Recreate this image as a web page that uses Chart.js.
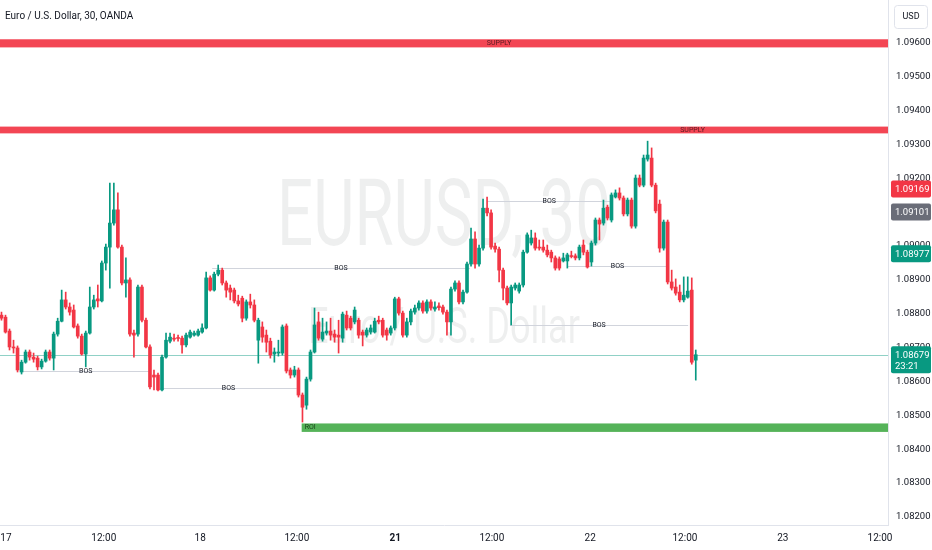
<!DOCTYPE html>
<html lang="en">
<head>
	<meta charset="UTF-8">
	<title>Euro / U.S. Dollar, 30, OANDA</title>
	<script src="https://cdn.jsdelivr.net/npm/chart.js@4.4.0/dist/chart.umd.min.js"></script>
	<style>
		html, body {
			margin: 0;
			padding: 0;
			background: #fff;
			overflow: hidden;
		}

		#wrap {
			width: 932px;
			height: 550px;
		}
	</style>
</head>

<body>
	<div id="wrap"><canvas id="chart" width="932" height="550"></canvas></div>

	<script>
		// OHLC of the 30 minute bars (bar 0 = first visible bar)
		const opens = [
			1.08796, 1.08790, 1.08749, 1.08702, 1.08699, 1.08628, 1.08657, 1.08687, 1.08672, 1.08669,
			1.08643, 1.08660, 1.08687, 1.08669, 1.08740, 1.08778, 1.08841, 1.08820, 1.08811, 1.08764,
			1.08734, 1.08681, 1.08743, 1.08820, 1.08844, 1.08838, 1.08950, 1.08997, 1.09068, 1.09107,
			1.08997, 1.08891, 1.08900, 1.08743, 1.08740, 1.08879, 1.08781, 1.08702, 1.08619, 1.08619,
			1.08575, 1.08672, 1.08719, 1.08728, 1.08728, 1.08728, 1.08708, 1.08731, 1.08737, 1.08737,
			1.08746, 1.08758, 1.08906, 1.08870, 1.08917, 1.08929, 1.08891, 1.08876, 1.08870, 1.08838,
			1.08846, 1.08787, 1.08835, 1.08826, 1.08722, 1.08761, 1.08737, 1.08719, 1.08681, 1.08684,
			1.08684, 1.08764, 1.08634, 1.08619, 1.08634, 1.08560, 1.08530, 1.08607, 1.08687, 1.08776,
			1.08725, 1.08743, 1.08749, 1.08740, 1.08737, 1.08728, 1.08796, 1.08787, 1.08776, 1.08781,
			1.08746, 1.08737, 1.08746, 1.08746, 1.08781, 1.08781, 1.08752, 1.08743, 1.08758, 1.08844,
			1.08802, 1.08737, 1.08776, 1.08805, 1.08817, 1.08832, 1.08808, 1.08835, 1.08814, 1.08823,
			1.08820, 1.08805, 1.08776, 1.08873, 1.08891, 1.08835, 1.08864, 1.08947, 1.09021, 1.08947,
			1.08994, 1.09112, 1.09098, 1.09000, 1.08991, 1.08929, 1.08876, 1.08832, 1.08876, 1.08867,
			1.08885, 1.08982, 1.09009, 1.09024, 1.08997, 1.08997, 1.08988, 1.08982, 1.08965, 1.08962,
			1.08956, 1.08956, 1.08971, 1.08971, 1.08965, 1.09003, 1.08982, 1.08953, 1.09009, 1.09077,
			1.09068, 1.09115, 1.09077, 1.09145, 1.09157, 1.09142, 1.09095, 1.09136, 1.09059, 1.09201,
			1.09180, 1.09257, 1.09260, 1.09180, 1.09124, 1.08994, 1.09071, 1.08894, 1.08879, 1.08864,
			1.08841, 1.08849, 1.08870, 1.08663
		];
		const highs = [
			1.08805, 1.08796, 1.08755, 1.08722, 1.08705, 1.08663, 1.08693, 1.08693, 1.08684, 1.08675,
			1.08666, 1.08693, 1.08693, 1.08746, 1.08787, 1.08870, 1.08864, 1.08832, 1.08826, 1.08770,
			1.08740, 1.08749, 1.08879, 1.08855, 1.08885, 1.08956, 1.09006, 1.09186, 1.09186, 1.09157,
			1.09003, 1.08965, 1.08906, 1.08752, 1.08885, 1.08885, 1.08787, 1.08708, 1.08634, 1.08625,
			1.08678, 1.08743, 1.08743, 1.08740, 1.08737, 1.08734, 1.08743, 1.08752, 1.08749, 1.08755,
			1.08770, 1.08923, 1.08912, 1.08923, 1.08944, 1.08935, 1.08897, 1.08885, 1.08876, 1.08855,
			1.08852, 1.08841, 1.08858, 1.08841, 1.08787, 1.08776, 1.08752, 1.08728, 1.08699, 1.08722,
			1.08767, 1.08770, 1.08640, 1.08645, 1.08640, 1.08566, 1.08613, 1.08693, 1.08817, 1.08805,
			1.08787, 1.08776, 1.08787, 1.08752, 1.08781, 1.08805, 1.08808, 1.08793, 1.08820, 1.08787,
			1.08752, 1.08758, 1.08767, 1.08787, 1.08793, 1.08787, 1.08758, 1.08764, 1.08849, 1.08849,
			1.08808, 1.08787, 1.08814, 1.08826, 1.08838, 1.08838, 1.08841, 1.08841, 1.08835, 1.08832,
			1.08826, 1.08811, 1.08879, 1.08897, 1.08897, 1.08870, 1.08953, 1.09053, 1.09042, 1.09003,
			1.09139, 1.09145, 1.09107, 1.09009, 1.08997, 1.08935, 1.08882, 1.08885, 1.08891, 1.08891,
			1.08988, 1.09039, 1.09047, 1.09039, 1.09018, 1.09018, 1.09003, 1.08988, 1.08971, 1.08968,
			1.08979, 1.08979, 1.08985, 1.08977, 1.09003, 1.09018, 1.08988, 1.09015, 1.09083, 1.09083,
			1.09136, 1.09121, 1.09157, 1.09166, 1.09172, 1.09148, 1.09142, 1.09142, 1.09210, 1.09210,
			1.09269, 1.09310, 1.09290, 1.09186, 1.09136, 1.09077, 1.09077, 1.08929, 1.08903, 1.08885,
			1.08909, 1.08909, 1.08906, 1.08693
		];
		const lows = [
			1.08781, 1.08743, 1.08693, 1.08684, 1.08628, 1.08622, 1.08654, 1.08663, 1.08657, 1.08634,
			1.08637, 1.08657, 1.08663, 1.08634, 1.08734, 1.08776, 1.08814, 1.08796, 1.08758, 1.08728,
			1.08678, 1.08643, 1.08740, 1.08814, 1.08820, 1.08835, 1.08929, 1.08876, 1.09062, 1.08994,
			1.08885, 1.08849, 1.08734, 1.08672, 1.08734, 1.08776, 1.08699, 1.08578, 1.08575, 1.08572,
			1.08572, 1.08669, 1.08714, 1.08719, 1.08719, 1.08684, 1.08702, 1.08728, 1.08734, 1.08734,
			1.08743, 1.08755, 1.08867, 1.08867, 1.08912, 1.08885, 1.08849, 1.08841, 1.08832, 1.08823,
			1.08776, 1.08781, 1.08817, 1.08776, 1.08654, 1.08716, 1.08687, 1.08669, 1.08657, 1.08675,
			1.08678, 1.08625, 1.08610, 1.08613, 1.08554, 1.08480, 1.08518, 1.08601, 1.08684, 1.08722,
			1.08719, 1.08737, 1.08722, 1.08716, 1.08684, 1.08716, 1.08752, 1.08752, 1.08770, 1.08728,
			1.08705, 1.08731, 1.08740, 1.08743, 1.08770, 1.08731, 1.08722, 1.08737, 1.08752, 1.08796,
			1.08731, 1.08731, 1.08767, 1.08799, 1.08811, 1.08802, 1.08802, 1.08811, 1.08808, 1.08811,
			1.08799, 1.08737, 1.08737, 1.08867, 1.08829, 1.08829, 1.08861, 1.08941, 1.08935, 1.08941,
			1.08988, 1.09089, 1.08991, 1.08982, 1.08894, 1.08841, 1.08826, 1.08767, 1.08870, 1.08861,
			1.08879, 1.08979, 1.09003, 1.08988, 1.08988, 1.08982, 1.08968, 1.08953, 1.08929, 1.08929,
			1.08953, 1.08935, 1.08965, 1.08959, 1.08959, 1.08974, 1.08935, 1.08941, 1.09003, 1.09018,
			1.09062, 1.09077, 1.09071, 1.09142, 1.09136, 1.09089, 1.09089, 1.09053, 1.09053, 1.09175,
			1.09175, 1.09251, 1.09175, 1.09098, 1.08982, 1.08988, 1.08888, 1.08870, 1.08855, 1.08835,
			1.08835, 1.08846, 1.08651, 1.08604
		];
		const closes = [
			1.08787, 1.08746, 1.08702, 1.08699, 1.08634, 1.08657, 1.08687, 1.08672, 1.08666, 1.08643,
			1.08660, 1.08687, 1.08669, 1.08740, 1.08778, 1.08841, 1.08820, 1.08805, 1.08761, 1.08734,
			1.08681, 1.08743, 1.08820, 1.08841, 1.08838, 1.08950, 1.08997, 1.09068, 1.09107, 1.08997,
			1.08891, 1.08900, 1.08740, 1.08737, 1.08879, 1.08781, 1.08702, 1.08584, 1.08613, 1.08575,
			1.08672, 1.08722, 1.08731, 1.08725, 1.08727, 1.08708, 1.08737, 1.08746, 1.08743, 1.08749,
			1.08758, 1.08906, 1.08870, 1.08917, 1.08929, 1.08891, 1.08870, 1.08864, 1.08838, 1.08829,
			1.08787, 1.08835, 1.08826, 1.08781, 1.08781, 1.08731, 1.08716, 1.08678, 1.08687, 1.08687,
			1.08761, 1.08631, 1.08619, 1.08634, 1.08560, 1.08524, 1.08607, 1.08687, 1.08767, 1.08728,
			1.08746, 1.08749, 1.08737, 1.08731, 1.08731, 1.08799, 1.08758, 1.08758, 1.08811, 1.08737,
			1.08737, 1.08752, 1.08758, 1.08778, 1.08776, 1.08737, 1.08737, 1.08758, 1.08844, 1.08802,
			1.08737, 1.08776, 1.08808, 1.08817, 1.08832, 1.08808, 1.08835, 1.08817, 1.08820, 1.08818,
			1.08805, 1.08776, 1.08873, 1.08891, 1.08835, 1.08864, 1.08947, 1.09021, 1.08947, 1.08994,
			1.09112, 1.09098, 1.08997, 1.08991, 1.08929, 1.08876, 1.08832, 1.08879, 1.08885, 1.08885,
			1.08982, 1.09033, 1.09024, 1.08994, 1.08994, 1.08988, 1.08974, 1.08965, 1.08935, 1.08935,
			1.08965, 1.08974, 1.08969, 1.08965, 1.08997, 1.08982, 1.08938, 1.09009, 1.09077, 1.09065,
			1.09112, 1.09083, 1.09151, 1.09157, 1.09142, 1.09095, 1.09136, 1.09059, 1.09201, 1.09180,
			1.09260, 1.09269, 1.09180, 1.09104, 1.08994, 1.09071, 1.08894, 1.08876, 1.08861, 1.08841,
			1.08855, 1.08867, 1.08657, 1.08679
		];

		// axes
		const priceTicks = [1.082, 1.083, 1.084, 1.085, 1.086, 1.087, 1.088, 1.089, 1.090, 1.091, 1.092, 1.093, 1.094, 1.095, 1.096];
		const timeTickBars = [1.1, 25.5, 49.5, 73.6, 98.1, 122.2, 146.7, 170.3, 194.7, 218.9];
		const timeTickLabels = ["17", "12:00", "18", "12:00", "21", "12:00", "22", "12:00", "23", "12:00"];

		// drawings (price levels, and bar numbers where they start / end)
		const supplyZones = [[1.09587, 1.09611], [1.09333, 1.09353]];
		const supplyLabelBars = [124, 172.2];
		const roiZone = [1.08451, 1.08476];
		const roiStartBar = 74.8;
		const bosLevels = [1.08631, 1.08580, 1.08935, 1.09133, 1.08941, 1.08767];
		const bosFromBar = [5, 39.5, 52.5, 121, 141, 126.7];
		const bosToBar = [37, 73.6, 116.7, 152, 166, 171.1];

		// price scale markers
		const markerPrices = [1.09169, 1.09101, 1.08977];
		const lastPrice = 1.08679;
		const countdown = "23:21";

		const UP = "#089981";
		const DOWN = "#f23645";
		const markerColors = [DOWN, "#6a6d78", UP];
		const FONT = "'Liberation Sans Narrow', Roboto, sans-serif";

		const barColors = opens.map((o, i) => closes[i] >= o ? UP : DOWN);
		const wickData = opens.map((o, i) => ({ x: i, y: [lows[i], highs[i]] }));
		const bodyData = opens.map((o, i) => ({ x: i, y: [o, closes[i]] }));

		function stretchedText(ctx, text, cx, baseY, size, width, color, family) {
			ctx.save();
			ctx.font = size + "px " + family;
			const w = ctx.measureText(text).width;
			ctx.translate(cx, baseY);
			ctx.scale(width / w, 1);
			ctx.fillStyle = color;
			ctx.textAlign = "center";
			ctx.textBaseline = "alphabetic";
			ctx.fillText(text, 0, 0);
			ctx.restore();
		}

		function roundBox(ctx, x, y, w, h, r, fill, stroke) {
			ctx.beginPath();
			ctx.roundRect(x, y, w, h, r);
			ctx.fillStyle = fill;
			ctx.fill();
			if (stroke) {
				ctx.strokeStyle = stroke;
				ctx.lineWidth = 1;
				ctx.stroke();
			}
		}

		const overlay = {
			id: "overlay",
			beforeDatasetsDraw(chart) {
				const { ctx, chartArea: a, scales: { x, y } } = chart;
				ctx.save();
				ctx.beginPath();
				ctx.rect(a.left, a.top, a.width, a.height);
				ctx.clip();

				// watermark
				const cx = (a.left + a.right) / 2;
				stretchedText(ctx, "EURUSD, 30", cx, 245, 92, 334, "rgba(19,23,34,0.07)", "Roboto");
				stretchedText(ctx, "Euro / U.S. Dollar", cx, 343, 50, 272, "rgba(19,23,34,0.07)", "Roboto");

				// supply zones
				supplyZones.forEach((z, i) => {
					const y1 = y.getPixelForValue(z[1]);
					const y0 = y.getPixelForValue(z[0]);
					ctx.fillStyle = "rgba(242,54,69,0.92)";
					ctx.fillRect(a.left, y1, a.width, y0 - y1);
					ctx.font = "7px " + FONT;
					ctx.fillStyle = "rgba(60,20,25,0.85)";
					ctx.textAlign = "center";
					ctx.textBaseline = "middle";
					ctx.fillText("SUPPLY", x.getPixelForValue(supplyLabelBars[i]), (y0 + y1) / 2);
				});

				// ROI zone
				const r1 = y.getPixelForValue(roiZone[1]);
				const r0 = y.getPixelForValue(roiZone[0]);
				const rx = x.getPixelForValue(roiStartBar);
				ctx.fillStyle = "rgba(76,175,80,0.95)";
				ctx.fillRect(rx, r1, a.right - rx, r0 - r1);
				ctx.font = "7px " + FONT;
				ctx.fillStyle = "rgba(20,50,20,0.9)";
				ctx.textAlign = "left";
				ctx.textBaseline = "middle";
				ctx.fillText("ROI", rx + 3, (r0 + r1) / 2);

				// BOS lines
				ctx.lineWidth = 1;
				bosLevels.forEach((lv, i) => {
					const py = Math.round(y.getPixelForValue(lv)) + 0.5;
					const x0 = x.getPixelForValue(bosFromBar[i]);
					const x1 = x.getPixelForValue(bosToBar[i]);
					ctx.strokeStyle = "#d1d4dc";
					ctx.beginPath();
					ctx.moveTo(x0, py);
					ctx.lineTo(x1, py);
					ctx.stroke();
					ctx.font = "7px " + FONT;
					ctx.fillStyle = "#131722";
					ctx.textAlign = "center";
					ctx.textBaseline = "middle";
					ctx.fillText("BOS", (x0 + x1) / 2, py);
				});

				// last price line
				const lp = Math.round(y.getPixelForValue(lastPrice)) + 0.5;
				ctx.strokeStyle = "rgba(8,153,129,0.45)";
				ctx.beginPath();
				ctx.moveTo(a.left, lp);
				ctx.lineTo(a.right, lp);
				ctx.stroke();
				ctx.restore();
			},
			afterDraw(chart) {
				const { ctx, chartArea: a, scales: { y } } = chart;
				ctx.save();
				const bx = a.right + 3;
				const bw = chart.width - bx - 1;

				ctx.font = "9.5px " + FONT;
				ctx.textBaseline = "middle";
				ctx.textAlign = "left";
				markerPrices.forEach((p, i) => {
					const py = y.getPixelForValue(p);
					roundBox(ctx, bx, py - 8.5, bw, 17, 2, markerColors[i]);
					ctx.fillStyle = "#fff";
					ctx.fillText(p.toFixed(5), bx + 4, py + 0.5);
				});

				const lp = y.getPixelForValue(lastPrice);
				roundBox(ctx, bx, lp - 8.5, bw, 27, 2, UP);
				ctx.fillStyle = "#fff";
				ctx.fillText(lastPrice.toFixed(5), bx + 4, lp + 0.5);
				ctx.fillText(countdown, bx + 4, lp + 12);

				// currency button
				roundBox(ctx, a.right + 6.5, 5.5, 33, 23, 3, "#fff", "#e0e3eb");
				ctx.fillStyle = "#131722";
				ctx.font = "9px " + FONT;
				ctx.textAlign = "center";
				ctx.fillText("USD", a.right + 23, 17);

				// legend title
				ctx.font = "10px " + FONT;
				ctx.textAlign = "left";
				ctx.fillStyle = "#131722";
				ctx.fillText("Euro / U.S. Dollar, 30, OANDA", 5, 16);
				ctx.restore();
			}
		};

		const ctx = document.getElementById("chart").getContext("2d");

		const chart = new Chart(ctx, {
			type: "bar",
			data: {
				datasets: [
					{
						label: "wick",
						data: wickData,
						backgroundColor: barColors,
						barThickness: 1,
						grouped: false,
						borderWidth: 0,
						order: 2
					},
					{
						label: "body",
						data: bodyData,
						backgroundColor: barColors,
						barThickness: 3,
						minBarLength: 1,
						grouped: false,
						borderWidth: 0,
						order: 1
					}
				]
			},
			plugins: [overlay],
			options: {
				responsive: false,
				animation: false,
				events: [],
				layout: { padding: 0 },
				plugins: {
					legend: { display: false },
					tooltip: { enabled: false },
					title: { display: false }
				},
				scales: {
					x: {
						type: "linear",
						offset: false,
						min: -0.37,
						max: 220.9,
						grid: { display: false, drawTicks: false },
						border: { color: "#e0e3eb" },
						afterBuildTicks: s => { s.ticks = timeTickBars.map(v => ({ value: v })); },
						afterFit: s => {
							s.height = 25;
							s.paddingLeft = 0;
							s.paddingRight = 0;
						},
						ticks: {
							autoSkip: false,
							maxRotation: 0,
							padding: 7,
							color: "#131722",
							font: c => ({
								family: FONT,
								size: 10,
								weight: c.tick && c.tick.value === timeTickBars[4] ? "bold" : "normal"
							}),
							callback: (v, i) => timeTickLabels[i]
						}
					},
					y: {
						position: "right",
						min: 1.08176,
						max: 1.09727,
						grid: { display: false, drawTicks: false },
						border: { color: "#e0e3eb" },
						afterBuildTicks: s => { s.ticks = priceTicks.map(v => ({ value: v })); },
						afterFit: s => {
							s.width = 44;
							s.paddingTop = 0;
							s.paddingBottom = 0;
						},
						ticks: {
							autoSkip: false,
							padding: 8,
							color: "#131722",
							font: { family: FONT, size: 9.5 },
							callback: v => v.toFixed(5)
						}
					}
				}
			}
		});
	</script>
</body>

</html>
